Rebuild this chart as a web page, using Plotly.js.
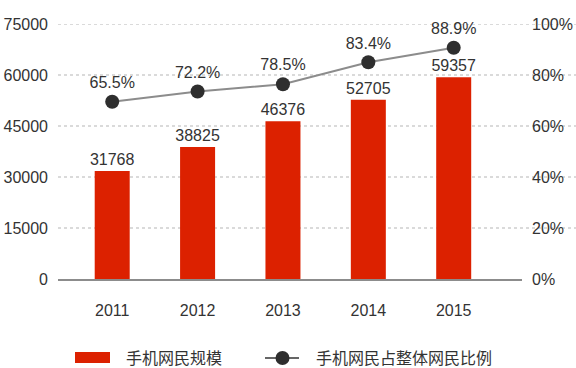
<!DOCTYPE html>
<html>
<head>
<meta charset="utf-8">
<script src="https://cdn.plot.ly/plotly-3.0.1.min.js"></script>
<style>html,body{margin:0;padding:0;background:#fff;}#chart{width:576px;height:368px;}</style>
</head>
<body>
<div id="chart"></div>
<script>
const years = ['2011', '2012', '2013', '2014', '2015'];
const mobileUsers = [31768, 38825, 46376, 52705, 59357];
const ratioPlotted = [69.5, 73.5, 76.4, 85.0, 90.7];
const ratioLabels = ['65.5%', '72.2%', '78.5%', '83.4%', '88.9%'];
const leftTicks = [0, 15000, 30000, 45000, 60000, 75000];
const rightTicks = [0, 20, 40, 60, 80, 100];
const seriesNames = ['手机网民规模', '手机网民占整体网民比例'];

const FONT = 'Liberation Sans, Arial, "Noto Sans CJK SC", sans-serif';
const TXT = '#333333';
const RED = '#dc2100';

const bars = {
  type: 'bar', x: years, y: mobileUsers, name: seriesNames[0],
  marker: {color: RED}, width: 0.41,
  text: mobileUsers.map(String), textposition: 'outside', constraintext: 'none',
  textfont: {family: FONT, size: 16, color: TXT},
  cliponaxis: false, hoverinfo: 'skip', showlegend: false
};
const line = {
  type: 'scatter', x: years, y: ratioPlotted, yaxis: 'y2', name: seriesNames[1],
  mode: 'lines+markers+text',
  line: {color: '#8c8c8c', width: 2},
  marker: {color: '#2e2e2e', size: 14},
  text: ratioLabels, textposition: 'top center',
  textfont: {family: FONT, size: 16, color: TXT},
  cliponaxis: false, hoverinfo: 'skip', showlegend: false
};

const plotL = 58, plotR = 522, plotT = 24, plotB = 279;
const pw = plotR - plotL, ph = plotB - plotT;
const px = v => (v - plotL) / pw;
const py = v => (plotB - v) / ph;

const shapes = leftTicks.filter(t => t > 0).map(t => ({
  type: 'line', xref: 'paper', yref: 'y', x0: 0, x1: px(576), y0: t, y1: t,
  line: {color: '#b5b5b5', width: 1, dash: 'dot'}, layer: 'below'
}));
// legend symbols
shapes.push({type: 'rect', xref: 'paper', yref: 'paper', x0: px(75), x1: px(110), y0: py(352), y1: py(363),
  fillcolor: RED, line: {width: 0}});
shapes.push({type: 'line', xref: 'paper', yref: 'paper', x0: px(265), x1: px(299), y0: py(358), y1: py(358),
  line: {color: '#333333', width: 1.5}});
shapes.push({type: 'circle', xref: 'paper', yref: 'paper', xsizemode: 'pixel', ysizemode: 'pixel',
  xanchor: px(282.5), yanchor: py(358), x0: -7, x1: 7, y0: -7, y1: 7,
  fillcolor: '#2e2e2e', line: {width: 0}});

const annotations = [
  {xref: 'paper', yref: 'paper', x: px(124), y: py(358), xanchor: 'left', yanchor: 'middle',
   text: seriesNames[0], showarrow: false, font: {family: FONT, size: 16, color: TXT}},
  {xref: 'paper', yref: 'paper', x: px(314), y: py(358), xanchor: 'left', yanchor: 'middle',
   text: seriesNames[1], showarrow: false, font: {family: FONT, size: 16, color: TXT}}
];

const layout = {
  width: 576, height: 368,
  margin: {l: plotL, r: 576 - plotR, t: plotT, b: 368 - plotB, pad: 0},
  paper_bgcolor: '#fff', plot_bgcolor: '#fff',
  font: {family: FONT, size: 16, color: TXT},
  showlegend: false,
  xaxis: {type: 'category', range: [-0.635, 4.8], showgrid: false, zeroline: false,
    showline: true, linecolor: '#8c8c8c', linewidth: 1.5, ticks: '',
    ticklabelstandoff: 16, tickfont: {family: FONT, size: 16, color: TXT}, fixedrange: true},
  yaxis: {range: [0, 75000], tickvals: leftTicks, ticktext: leftTicks.map(String),
    showgrid: false, zeroline: false, showline: false, ticks: '',
    ticklabelstandoff: 9, tickfont: {family: FONT, size: 16, color: TXT}, fixedrange: true},
  yaxis2: {range: [0, 100], overlaying: 'y', side: 'right', tickvals: rightTicks,
    ticktext: rightTicks.map(t => t + '%'), showgrid: false, zeroline: false, showline: false,
    ticks: '', ticklabelstandoff: 9, tickfont: {family: FONT, size: 16, color: TXT}, fixedrange: true},
  shapes: shapes,
  annotations: annotations
};

Plotly.newPlot('chart', [bars, line], layout, {staticPlot: true, displayModeBar: false});
</script>
</body>
</html>
